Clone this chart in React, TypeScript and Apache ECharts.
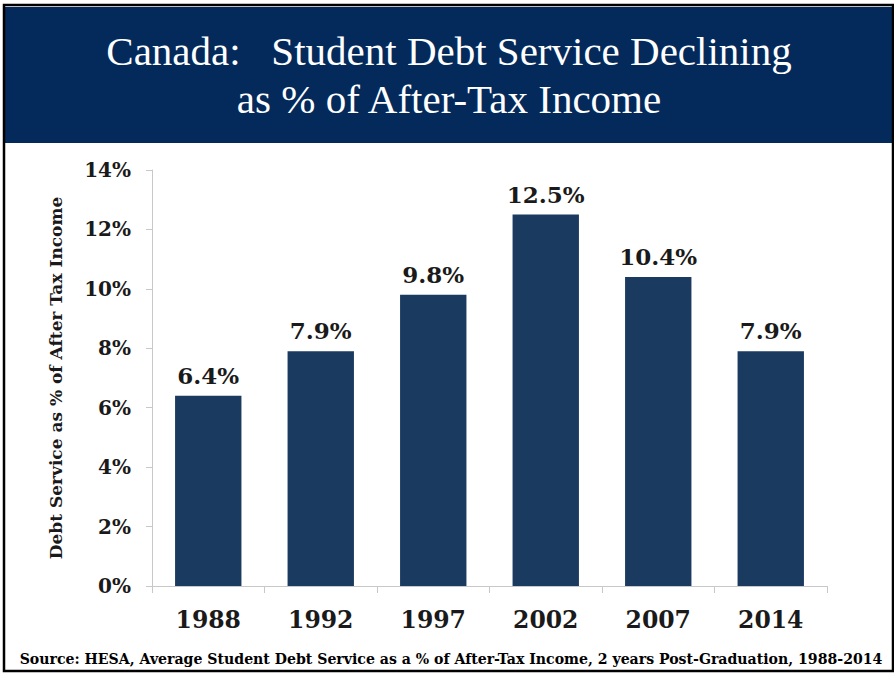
import React, { useEffect, useRef } from "react";
import * as echarts from "echarts";

const categories = ["1988", "1992", "1997", "2002", "2007", "2014"];
const values = [6.4, 7.9, 9.8, 12.5, 10.4, 7.9];
const titleLines = ["Canada:   Student Debt Service Declining", "as % of After-Tax Income"];
const yAxisTitle = "Debt Service as % of After Tax Income";
const sourceText = "Source: HESA, Average Student Debt Service as a % of After-Tax Income, 2 years Post-Graduation, 1988-2014";

const SERIF = "'Liberation Serif', 'DejaVu Serif', serif";
const BSERIF = "'DejaVu Serif', serif";

export default function App() {
  const ref = useRef<HTMLDivElement>(null);
  useEffect(() => {
    if (!ref.current) return;
    const chart = echarts.init(ref.current, undefined, { renderer: "svg" });
    chart.setOption({
      animation: false,
      backgroundColor: "#ffffff",
      grid: { left: 152, right: 67, top: 170, bottom: 87 },
      xAxis: {
        type: "category",
        data: categories,
        axisLine: { show: true, lineStyle: { color: "#c8c8c8", width: 1 } },
        axisTick: { show: true, alignWithLabel: false, length: 7, lineStyle: { color: "#c8c8c8" } },
        axisLabel: { color: "#1a1a1a", fontFamily: BSERIF, fontWeight: "bold", fontSize: 23.5, margin: 22 },
      },
      yAxis: {
        type: "value",
        min: 0,
        max: 14,
        interval: 2,
        name: yAxisTitle,
        nameLocation: "middle",
        nameGap: 88,
        nameRotate: 90,
        nameTextStyle: { color: "#1a1a1a", fontFamily: BSERIF, fontWeight: "bold", fontSize: 17 },
        axisLine: { show: true, lineStyle: { color: "#c8c8c8", width: 1 } },
        axisTick: { show: true, length: 6, lineStyle: { color: "#c8c8c8" } },
        splitLine: { show: false },
        axisLabel: {
          formatter: "{value}%",
          color: "#1a1a1a",
          fontFamily: BSERIF,
          fontWeight: "bold",
          fontSize: 20,
          margin: 21,
        },
      },
      series: [
        {
          type: "bar",
          data: values,
          barCategoryGap: "41%",
          itemStyle: { color: "#1b3a60" },
          label: {
            show: true,
            position: "top",
            distance: 9,
            formatter: (p: any) => `${p.value.toFixed(1)}%`,
            color: "#1a1a1a",
            fontFamily: BSERIF,
            fontWeight: "bold",
            fontSize: 23,
          },
        },
      ],
      graphic: [
        { type: "rect", shape: { x: 4, y: 5, width: 889, height: 666 }, style: { fill: "none", stroke: "#000", lineWidth: 2.5 }, z: 10 },
        { type: "rect", shape: { x: 5, y: 7, width: 889, height: 136 }, style: { fill: "#032a5b" }, z: 5 },
        { type: "text", x: 449, y: 51, style: { text: titleLines[0], fill: "#ffffff", font: `41px ${SERIF}`, align: "center", verticalAlign: "middle" }, z: 6 },
        { type: "text", x: 449, y: 99, style: { text: titleLines[1], fill: "#ffffff", font: `41px ${SERIF}`, align: "center", verticalAlign: "middle" }, z: 6 },
        { type: "text", x: 451, y: 659, style: { text: sourceText, fill: "#000000", font: `bold 14.1px ${BSERIF}`, align: "center", verticalAlign: "middle" }, z: 6 },
      ],
    });
    return () => chart.dispose();
  }, []);
  return <div ref={ref} style={{ position: "fixed", left: 0, top: 0, width: 894, height: 673 }} />;
}
